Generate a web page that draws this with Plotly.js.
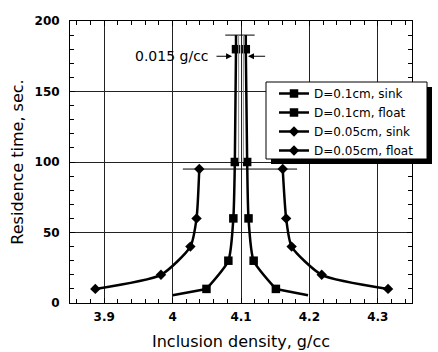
<!DOCTYPE html>
<html>
<head>
<meta charset="utf-8">
<script src="https://cdn.plot.ly/plotly-3.0.1.min.js"></script>
<style>html,body{margin:0;padding:0;background:#fff;}</style>
</head>
<body>
<div id="chart" style="width:438px;height:352px;"></div>
<script>
// ---- data ----
const seriesNames = ['D=0.1cm, sink', 'D=0.1cm, float', 'D=0.05cm, sink', 'D=0.05cm, float'];

const sink01X  = [4.0927, 4.091, 4.0888, 4.0815, 4.0495];
const sink01Y  = [180, 100, 60, 30, 10];
const float01X = [4.107, 4.109, 4.111, 4.1185, 4.151];
const float01Y = [180, 100, 60, 30, 10];
const sink005X  = [3.887, 3.983, 4.026, 4.035, 4.039];
const sink005Y  = [10, 20, 40, 60, 95];
const float005X = [4.161, 4.166, 4.174, 4.218, 4.315];
const float005Y = [95, 60, 40, 20, 10];

// unmarked curve tails toward the axis
const sink01TailX  = [4.0495, 4.0];
const sink01TailY  = [10, 5.5];
const float01TailX = [4.151, 4.198];
const float01TailY = [10, 5.5];

// bracket drawn above the 0.1 cm peaks
const peakStemX = [4.0927, 4.0927, null, 4.107, 4.107];
const peakStemY = [180, 190, null, 180, 190];
const peakCapX  = [4.077, 4.12];
const peakCapY  = [190, 190];
const guideX = [4.0965, 4.0965, null, 4.1035, 4.1035];
const guideY = [100, 190, null, 100, 190];
// level line through the 0.05 cm peaks
const level005X = [4.015, 4.182];
const level005Y = [95, 95];

const xTickVals = [3.9, 4.0, 4.1, 4.2, 4.3];
const xTickText = ['3.9', '4', '4.1', '4.2', '4.3'];
const yTickVals = [0, 50, 100, 150, 200];
const yTickText = ['0', '50', '100', '150', '200'];

const gapLabel = '0.015 g/cc';

// ---- styles ----
const F = 'DejaVu Sans, Arial, sans-serif';
const curveLine = {color: '#000', width: 2.5, shape: 'spline', smoothing: 0.6};
const squareMk = {symbol: 'square', size: 8.5, color: '#000'};
const diamondMk = {symbol: 'diamond', size: 8, color: '#000'};

const traces = [
  {x: sink01X, y: sink01Y, name: seriesNames[0], mode: 'lines+markers', line: curveLine, marker: squareMk},
  {x: float01X, y: float01Y, name: seriesNames[1], mode: 'lines+markers', line: curveLine, marker: squareMk},
  {x: sink005X, y: sink005Y, name: seriesNames[2], mode: 'lines+markers', line: curveLine, marker: diamondMk},
  {x: float005X, y: float005Y, name: seriesNames[3], mode: 'lines+markers', line: curveLine, marker: diamondMk},
  {x: sink01TailX, y: sink01TailY, mode: 'lines', line: {color: '#000', width: 2.5}, showlegend: false, hoverinfo: 'skip'},
  {x: float01TailX, y: float01TailY, mode: 'lines', line: {color: '#000', width: 2.5}, showlegend: false, hoverinfo: 'skip'},
  {x: peakStemX, y: peakStemY, mode: 'lines', line: {color: '#000', width: 2.5}, showlegend: false, hoverinfo: 'skip', connectgaps: false},
  {x: peakCapX, y: peakCapY, mode: 'lines', line: {color: '#000', width: 1}, showlegend: false, hoverinfo: 'skip'},
  {x: guideX, y: guideY, mode: 'lines', line: {color: '#888', width: 1}, showlegend: false, hoverinfo: 'skip', connectgaps: false},
  {x: level005X, y: level005Y, mode: 'lines', line: {color: '#000', width: 1}, showlegend: false, hoverinfo: 'skip'}
];

// legend box (drawn as shapes so it can carry the drop shadow)
const plotL = 70, plotR = 412, plotT = 21, plotB = 303;
const px2paperX = p => (p - plotL) / (plotR - plotL);
const px2paperY = p => (plotB - p) / (plotB - plotT);
const box = {l: 266, r: 427, t: 82, b: 159};

const tickFont = {family: F, size: 12, color: '#000', weight: 'bold'};
const titleFont = {family: F, size: 16, color: '#000'};

const layout = {
  width: 438, height: 352,
  margin: {l: plotL, r: 438 - plotR, t: plotT, b: 352 - plotB, pad: 0},
  paper_bgcolor: '#fff', plot_bgcolor: '#fff',
  font: {family: F, color: '#000', size: 13},
  showlegend: true,
  legend: {
    x: px2paperX(box.l + 8), y: px2paperY(box.t - 3), xanchor: 'left', yanchor: 'top',
    bgcolor: 'rgba(0,0,0,0)', borderwidth: 0,
    font: {family: F, size: 12, color: '#000'},
    itemwidth: 30, tracegroupgap: 0
  },
  xaxis: {
    range: [3.85, 4.35], tickmode: 'array', tickvals: xTickVals, ticktext: xTickText,
    ticks: 'inside', ticklen: 5, tickcolor: '#000', showline: true, linecolor: '#000', linewidth: 1,
    mirror: 'allticks', showgrid: true, gridcolor: '#222', gridwidth: 1, zeroline: false,
    tickfont: tickFont, ticklabelstandoff: 3,
    minor: {dtick: 0.02, tick0: 3.9, ticks: 'inside', ticklen: 4, tickcolor: '#000', showgrid: false},
    title: {text: 'Inclusion density, g/cc', font: titleFont, standoff: 12}
  },
  yaxis: {
    range: [0, 200], tickmode: 'array', tickvals: yTickVals, ticktext: yTickText,
    ticks: 'inside', ticklen: 5, tickcolor: '#000', showline: true, linecolor: '#000', linewidth: 1,
    mirror: 'allticks', showgrid: true, gridcolor: '#222', gridwidth: 1, zeroline: false,
    tickfont: tickFont, ticklabelstandoff: 7,
    minor: {dtick: 10, tick0: 0, ticks: 'inside', ticklen: 4, tickcolor: '#000', showgrid: false},
    title: {text: 'Residence time, sec.', font: titleFont, standoff: 6}
  },
  shapes: [
    {type: 'rect', xref: 'paper', yref: 'paper', layer: 'above',
     x0: px2paperX(box.l + 5), x1: px2paperX(box.r + 5), y0: px2paperY(box.b + 5), y1: px2paperY(box.t + 5),
     fillcolor: '#000', line: {width: 0}},
    {type: 'rect', xref: 'paper', yref: 'paper', layer: 'above',
     x0: px2paperX(box.l), x1: px2paperX(box.r), y0: px2paperY(box.b), y1: px2paperY(box.t),
     fillcolor: '#fff', line: {color: '#000', width: 1}}
  ],
  annotations: [
    {x: 3.999, y: 175, xref: 'x', yref: 'y', text: gapLabel, showarrow: false,
     font: {family: F, size: 14, color: '#000'}},
    {x: 4.0869, y: 175, ax: 4.062, ay: 175, axref: 'x', ayref: 'y', xref: 'x', yref: 'y', text: '',
     showarrow: true, arrowhead: 2, arrowsize: 1.2, arrowwidth: 1, arrowcolor: '#000'},
    {x: 4.1102, y: 175, ax: 4.1375, ay: 175, axref: 'x', ayref: 'y', xref: 'x', yref: 'y', text: '',
     showarrow: true, arrowhead: 2, arrowsize: 1.2, arrowwidth: 1, arrowcolor: '#000'}
  ]
};

Plotly.newPlot('chart', traces, layout, {displayModeBar: false, staticPlot: true});
</script>
</body>
</html>
